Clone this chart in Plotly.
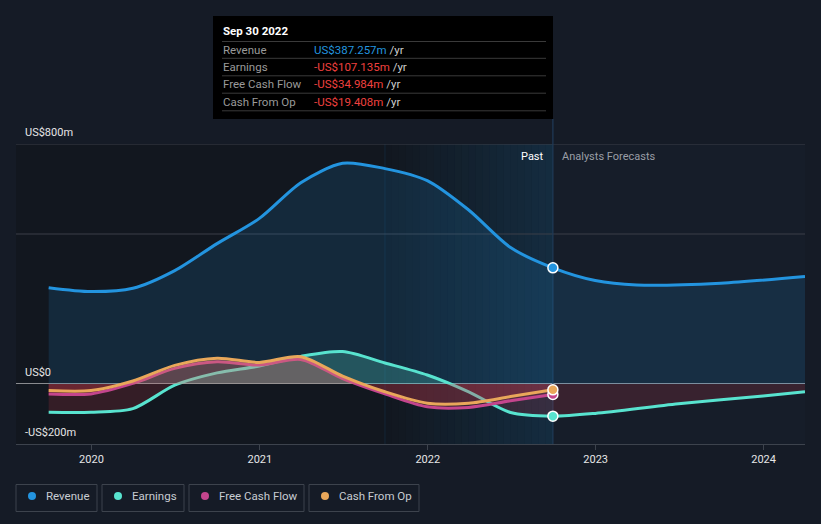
import plotly.graph_objects as go
import pandas as pd

# ---------------- data ----------------
past_dates = ["2019-09-30", "2019-12-31", "2020-03-31", "2020-06-30", "2020-09-30",
              "2020-12-31", "2021-03-31", "2021-06-30", "2021-09-30", "2021-12-31",
              "2022-03-31", "2022-06-30", "2022-09-30"]
forecast_dates_rev = ["2022-12-31", "2023-03-31", "2023-09-30", "2024-03-31"]
forecast_dates_earn = ["2022-12-31", "2023-06-30", "2023-12-31", "2024-03-31"]

revenue_past = [321, 308, 319, 378, 468, 552, 671, 736, 718, 678, 580, 455, 387.257]
revenue_forecast = [345, 330, 336, 358]
earnings_past = [-94, -94, -82, -4, 37, 60, 92, 108, 70, 30, -26, -95, -107.135]
earnings_forecast = [-98, -66, -40, -26]
fcf_past = [-33, -33, 2, 52, 74, 63, 82, 18, -33, -76, -78, -56, -34.984]
cfo_past = [-22, -22, 10, 62, 86, 72, 91, 26, -26, -64, -64, -42, -19.408]

year_ticks = ["2020-01-01", "2021-01-01", "2022-01-01", "2023-01-01", "2024-01-01"]
year_labels = ["2020", "2021", "2022", "2023", "2024"]

tooltip_title = "Sep 30 2022"
tooltip_rows = ["Revenue", "Earnings", "Free Cash Flow", "Cash From Op"]
tooltip_values = ["US$387.257m", "-US$107.135m", "-US$34.984m", "-US$19.408m"]

legend_names = ["Revenue", "Earnings", "Free Cash Flow", "Cash From Op"]

# ---------------- style ----------------
REV = "#2394df"
EARN = "#58e3cf"
FCF = "#c4458d"
CFO = "#e9a75a"
NEG_FILL = "rgba(226,60,75,0.17)"
BG = "#151b26"
FONT = "Roboto"

W, H = 821, 524
L, R, T, B = 16, 16, 144, 80
PW, PH = W - L - R, H - T - B


def xp(px):
    return (px - L) / PW


def yp(py):
    return (H - B - py) / PH


X_RANGE = ["2019-07-21", "2024-03-31"]
last_date = past_dates[-1]
hl_start = past_dates[-5]

fig = go.Figure()

rev_dates = past_dates + forecast_dates_rev
revenue = revenue_past + revenue_forecast
earn_dates = past_dates + forecast_dates_earn
earnings = earnings_past + earnings_forecast

spline = dict(shape="spline", smoothing=0.8)

fig.add_trace(go.Scatter(x=rev_dates, y=revenue, yaxis="y", mode="lines",
                         line=dict(color=REV, width=3, **spline),
                         fill="tozeroy", fillcolor="rgba(35,148,223,0.15)"))

series = [
    (earn_dates, earnings, EARN, "rgba(88,227,207,0.24)"),
    (past_dates, fcf_past, FCF, "rgba(196,69,141,0.2)"),
    (past_dates, cfo_past, CFO, "rgba(233,167,90,0.2)"),
]
for xs, ys, col, pfill in series:
    fig.add_trace(go.Scatter(x=xs, y=ys, yaxis="y", mode="lines",
                             line=dict(color=col, width=3, **spline),
                             fill="tozeroy", fillcolor=pfill))
    fig.add_trace(go.Scatter(x=xs, y=ys, yaxis="y2", mode="lines",
                             line=dict(color=col, width=3, **spline),
                             fill="tozeroy", fillcolor=NEG_FILL))

# end-of-past markers
fig.add_trace(go.Scatter(x=[last_date], y=[revenue_past[-1]], yaxis="y", mode="markers",
                         cliponaxis=False,
                         marker=dict(color=REV, size=10, line=dict(color="white", width=1.5))))
for vals, col in [(earnings_past, EARN), (fcf_past, FCF), (cfo_past, CFO)]:
    fig.add_trace(go.Scatter(x=[last_date], y=[vals[-1]], yaxis="y2", mode="markers",
                             cliponaxis=False,
                             marker=dict(color=col, size=10, line=dict(color="white", width=1.5))))

shapes = []
# forecast region slightly lighter
shapes.append(dict(type="rect", xref="x", yref="paper", x0=last_date, x1=X_RANGE[1],
                   y0=0, y1=1, fillcolor="#161d29", line=dict(width=0), layer="below"))
# past highlight gradient
edges = pd.date_range(hl_start, last_date, periods=25)
n = len(edges) - 1
for i in range(n):
    a = 0.17 * (i + 1) / n
    shapes.append(dict(type="rect", xref="x", yref="paper", x0=edges[i], x1=edges[i + 1],
                       y0=0, y1=1, fillcolor=f"rgba(35,148,223,{a:.3f})",
                       line=dict(width=0), layer="below"))
shapes.append(dict(type="line", xref="x", yref="paper", x0=hl_start, x1=hl_start,
                   y0=0, y1=1, line=dict(color="rgba(35,148,223,0.12)", width=1), layer="below"))
# gridlines
for gv in [800, 500]:
    shapes.append(dict(type="line", xref="paper", yref="y", x0=0, x1=1, y0=gv, y1=gv,
                       line=dict(color="#3a3f49", width=1), layer="below"))
# zero line
shapes.append(dict(type="line", xref="paper", yref="y", x0=0, x1=1, y0=0, y1=0,
                   line=dict(color="#ffffff", width=1.2), layer="below"))
# past / forecast divider
shapes.append(dict(type="line", xref="x", yref="paper", x0=last_date, x1=last_date,
                   y0=0, y1=yp(119), line=dict(color="#1f3b58", width=1.2), layer="below"))

# tooltip box
shapes.append(dict(type="rect", xref="paper", yref="paper", x0=xp(213), x1=xp(553),
                   y0=yp(119), y1=yp(16), fillcolor="#000000", line=dict(width=0), layer="above"))
for ly in [41.5, 58.3, 75.8, 93.2, 110.8]:
    shapes.append(dict(type="line", xref="paper", yref="paper", x0=xp(222), x1=xp(546),
                       y0=yp(ly), y1=yp(ly), line=dict(color="#3a3a3a", width=1), layer="above"))

annotations = []
annotations.append(dict(xref="paper", yref="paper", x=xp(221), y=yp(31), text=f"<b>{tooltip_title}</b>",
                        showarrow=False, xanchor="left", yanchor="middle",
                        font=dict(family=FONT, size=11.5, color="#ffffff")))
row_y = [49.5, 66.5, 84, 101.5]
for i, (lab, val) in enumerate(zip(tooltip_rows, tooltip_values)):
    vcol = REV if not val.startswith("-") else "#f0403f"
    annotations.append(dict(xref="paper", yref="paper", x=xp(221), y=yp(row_y[i]), text=lab,
                            showarrow=False, xanchor="left", yanchor="middle",
                            font=dict(family=FONT, size=11.5, color="#9a9a9a")))
    annotations.append(dict(xref="paper", yref="paper", x=xp(312), y=yp(row_y[i]),
                            text=f"<span style='color:{vcol}'>{val}</span> /yr",
                            showarrow=False, xanchor="left", yanchor="middle",
                            font=dict(family=FONT, size=11.5, color="#cfcfcf")))

# y labels
for txt, py in [("US$800m", 132), ("US$0", 372), ("-US$200m", 432)]:
    annotations.append(dict(xref="paper", yref="paper", x=xp(23), y=yp(py), text=txt,
                            showarrow=False, xanchor="left", yanchor="middle",
                            font=dict(family=FONT, size=11, color="#e6e6e6")))

annotations.append(dict(xref="paper", yref="paper", x=xp(546), y=yp(156), text="Past",
                        showarrow=False, xanchor="right", yanchor="middle",
                        font=dict(family=FONT, size=11, color="#ffffff")))
annotations.append(dict(xref="paper", yref="paper", x=xp(560), y=yp(156), text="Analysts Forecasts",
                        showarrow=False, xanchor="left", yanchor="middle",
                        font=dict(family=FONT, size=11, color="#9a9ea6")))

# legend boxes
boxes = [(16, 97), (102, 184), (189, 304), (309, 419)]
colors = [REV, EARN, FCF, CFO]
for (bx0, bx1), name, col in zip(boxes, legend_names, colors):
    shapes.append(dict(type="rect", xref="paper", yref="paper", x0=xp(bx0), x1=xp(bx1),
                       y0=yp(511.5), y1=yp(484.5), fillcolor="rgba(0,0,0,0)",
                       line=dict(color="#3d434d", width=1), layer="above"))
    cx = bx0 + 16
    shapes.append(dict(type="circle", xref="paper", yref="paper", x0=xp(cx - 4), x1=xp(cx + 4),
                       y0=yp(500), y1=yp(492), fillcolor=col, line=dict(width=0), layer="above"))
    annotations.append(dict(xref="paper", yref="paper", x=xp(bx0 + 28), y=yp(496), text=name,
                            showarrow=False, xanchor="left", yanchor="middle",
                            font=dict(family=FONT, size=11.5, color="#c8ccd2")))

fig.update_layout(
    width=W, height=H, autosize=False,
    margin=dict(l=L, r=R, t=T, b=B, pad=0),
    paper_bgcolor=BG, plot_bgcolor="#12171f",
    showlegend=False, hovermode=False,
    shapes=shapes, annotations=annotations,
    xaxis=dict(type="date", range=X_RANGE, anchor="y2", tickvals=year_ticks, ticktext=year_labels,
               ticks="outside", ticklen=5, tickcolor="#3d434d", showgrid=False, zeroline=False,
               showline=True, linecolor="#3d434d", linewidth=1,
               tickfont=dict(family=FONT, size=11, color="#e6e6e6")),
    yaxis=dict(domain=[yp(384), 1], range=[0, 800], anchor="x", visible=False, fixedrange=True),
    yaxis2=dict(domain=[0, yp(384)], range=[-200, 0], anchor="x", visible=False, fixedrange=True),
)

fig.write_html("out.html", config={"displayModeBar": False},
               post_script="document.body.style.margin='0';document.body.style.background='#151b26';")
